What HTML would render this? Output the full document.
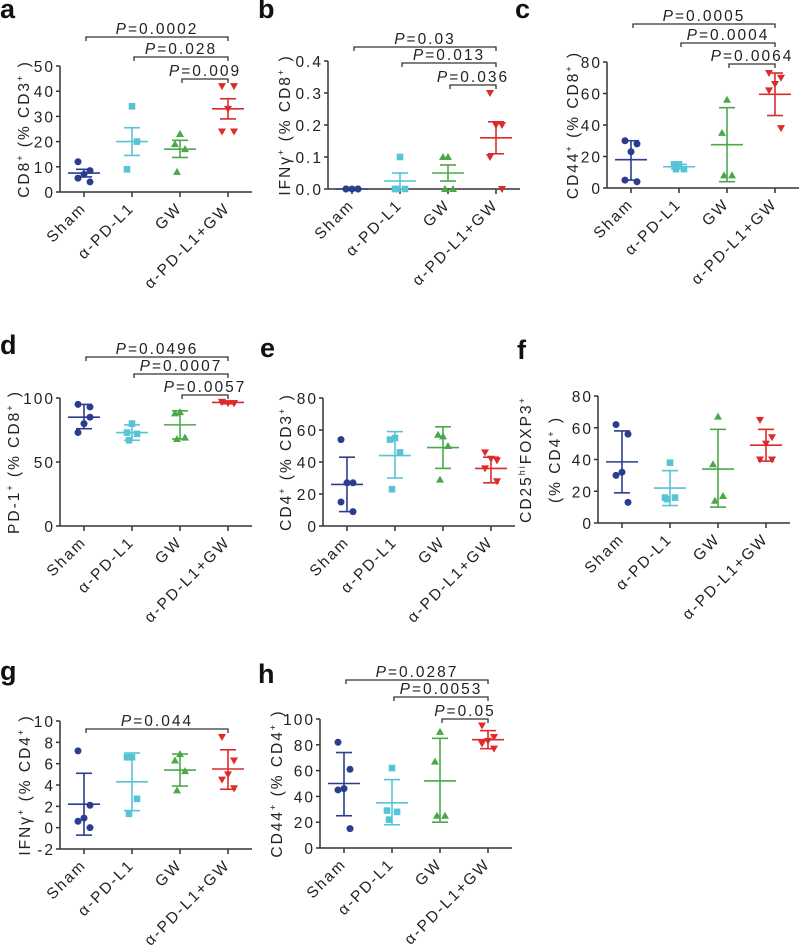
<!DOCTYPE html>
<html><head><meta charset="utf-8"><style>
body{margin:0;background:#fff}
svg{display:block;font-family:"Liberation Sans",sans-serif}
.t{font-size:15.5px;letter-spacing:2px;fill:#222}
</style></head><body>
<svg id="fig" width="800" height="951" viewBox="0 0 800 951"></svg>
<script>
const categories = ["Sham","\u03b1-PD-L1","GW","\u03b1-PD-L1+GW"];
const colors = ["#2b3d8f","#56c3d6","#4aa84a","#dd2b2b"];
const aPts = [[12,8.5,7,5.5,4],[34,20,9],[23,19,17,8],[42,42,33,24,24]];
const aMean = [7.5,20,17,33]; const aErr = [[6,9],[14.5,25.5],[13.7,20.5],[29,37]];
const bPts = [[0,0,0,0,0],[0.1,0,0,0],[0.1,0.1,0,0],[0.3,0.2,0.2,0.1,0]];
const bMean = [0,0.025,0.05,0.16]; const bErr = [[0,0],[0,0.05],[0.025,0.075],[0.11,0.21]];
const cPts = [[30,28,23,5,4],[15,15,12,12],[56,35,8,8],[73,70,66,62,38]];
const cMean = [18,13.5,27.5,59.5]; const cErr = [[5,30],[12,15],[4,51],[46,73]];
const dPts = [[95,93,80,73,85],[80,73,72,67],[89,88,69,68],[97,96,96,97,96]];
const dMean = [85,73,79,96.5]; const dErr = [[76,95],[67,79],[68,90],[95.5,97.5]];
const ePts = [[54,27,27,15,9],[55,54,46,23],[56,57,50,29],[46,41,42,36,28]];
const eMean = [26,44,49,36]; const eErr = [[9,43],[30,59],[36,62],[27,43]];
const fPts = [[62,56,32,30,13],[38,16,16,15],[67,37,17,14],[65,54,50,40,40]];
const fMean = [38.5,22,34,49]; const fErr = [[19,58],[11,33],[10,59],[39,59]];
const gPts = [[7.2,2.1,0.9,0.6,0],[6.6,6.6,2.7,1.3],[6.9,6.3,5.3,3.5],[8.5,6.3,5,4.5,3.7]];
const gMean = [2.2,4.3,5.4,5.5]; const gErr = [[-0.7,5.1],[1.6,7],[3.9,6.9],[3.6,7.3]];
const hPts = [[82,61,46,45,15],[62,29,28,22],[90,67,25,25],[95,86,83,81,77]];
const hMean = [50,35,52,84]; const hErr = [[25,74],[18,53],[20,85],[77,91]];
const aTicks=[0,10,20,30,40,50], bTicks=[0,0.1,0.2,0.3,0.4], cTicks=[0,20,40,60,80], dTicks=[0,50,100];
const eTicks=[0,20,40,60,80], fTicks=[0,20,40,60,80], gTicks=[-2,0,2,4,6,8,10], hTicks=[0,20,40,60,80,100];
const bTickLabels=["0.0","0.1","0.2","0.3","0.4"];
const aP=["0.0002","0.028","0.009"], bP=["0.03","0.013","0.036"], cP=["0.0005","0.0004","0.0064"];
const dP=["0.0496","0.0007","0.0057"], gP=["0.044"], hP=["0.0287","0.0053","0.05"];

const NS="http://www.w3.org/2000/svg", svg=document.getElementById('fig');
function mk(tag,attrs,parent){const e=document.createElementNS(NS,tag);for(const k in attrs)e.setAttribute(k,attrs[k]);(parent||svg).appendChild(e);return e;}
const jit=[[0],[-5,5],[0,5,-5],[0,-5,5,-3],[-6,6,0,-6,6]];

function panel(cfg){
  const g=mk('g',{});
  
  
  const ymin=cfg.ticks[0], ymax=cfg.ticks[cfg.ticks.length-1];
  const Y=v=>cfg.y0+(v-ymin)/(ymax-ymin)*(cfg.yTop-cfg.y0);
  const X=i=>cfg.ax+24+i*48;
  const L=mk('text',{x:cfg.lx,y:cfg.ly,'font-size':27,'font-weight':'bold',fill:'#111'},g);L.textContent=cfg.id;
  
  
  mk('line',{x1:cfg.ax,y1:cfg.y0,x2:cfg.ax,y2:cfg.yTop,stroke:'#333','stroke-width':1.5},g);
  mk('line',{x1:cfg.ax,y1:cfg.y0,x2:cfg.ax+192,y2:cfg.y0,stroke:'#333','stroke-width':1.5},g);
  cfg.ticks.forEach((t,k)=>{
    mk('line',{x1:cfg.ax-4,y1:Y(t),x2:cfg.ax,y2:Y(t),stroke:'#333','stroke-width':1.5},g);
    const tx=mk('text',{x:cfg.ax-5,y:Y(t)+6,'text-anchor':'end',class:'t'},g);
    tx.textContent=cfg.tickLabels?cfg.tickLabels[k]:String(t);
    
    
  });
  categories.forEach((c,i)=>{
    mk('line',{x1:X(i),y1:cfg.y0,x2:X(i),y2:cfg.y0+5,stroke:'#333','stroke-width':1.5},g);
    const tx=mk('text',{x:X(i)+3,y:cfg.y0+17,'text-anchor':'end',class:'t',transform:`rotate(-45 ${X(i)+3} ${cfg.y0+17})`},g);tx.textContent=c;
    
    
  });
  const cy=(cfg.y0+cfg.yTop)/2;
  cfg.title.forEach((tl,k)=>{
    const tx=mk('text',{x:cfg.tx+k*29,y:cy,'text-anchor':'middle',class:'t',transform:`rotate(-90 ${cfg.tx+k*29} ${cy})`},g);
    tx.innerHTML=tl;
    
    
  });
  cfg.pts.forEach((arr,i)=>{
    const col=colors[i], x=X(i);
    arr.forEach((v,j)=>{
      const px=x+jit[arr.length-1][j], py=Y(v); let m;
      if(i==0) m=mk('circle',{cx:px,cy:py,r:3.5,fill:col},g);
      else if(i==1) m=mk('rect',{x:px-3.3,y:py-3.3,width:6.6,height:6.6,fill:col},g);
      else if(i==2) m=mk('polygon',{points:`${px},${py-4} ${px-4},${py+3} ${px+4},${py+3}`,fill:col},g);
      else m=mk('polygon',{points:`${px},${py+4} ${px-4},${py-3} ${px+4},${py-3}`,fill:col},g);
      
      
    });
    const lo=Y(cfg.err[i][0]),hi=Y(cfg.err[i][1]),mn=Y(cfg.mean[i]);
    mk('line',{x1:x,y1:lo,x2:x,y2:hi,stroke:col,'stroke-width':1.6},g);
    mk('line',{x1:x-8,y1:lo,x2:x+8,y2:lo,stroke:col,'stroke-width':1.6},g);
    mk('line',{x1:x-8,y1:hi,x2:x+8,y2:hi,stroke:col,'stroke-width':1.6},g);
    const ml=mk('line',{x1:x-16,y1:mn,x2:x+16,y2:mn,stroke:col,'stroke-width':1.6},g);
    
    
  });
  (cfg.pv||[]).forEach((p,k)=>{
    const b=cfg.br[k], x1=X(b[0])+2, x2=X(3);
    mk('path',{d:`M${x1} ${b[1]+4}V${b[1]}H${x2}V${b[1]+4}`,stroke:'#333',fill:'none','stroke-width':1.3},g);
    const tx=mk('text',{x:(x1+x2)/2,y:b[1]-3,'text-anchor':'middle',class:'t'},g);
    tx.innerHTML='<tspan font-style="italic">P</tspan>='+p;
    
    
  });
}
const sup=s=>`<tspan dy="-6" font-size="9">${s}</tspan><tspan dy="6"> </tspan>`;
panel({id:'a',lx:0,ly:18,ax:60,y0:192,yTop:66,ticks:aTicks,pts:aPts,mean:aMean,err:aErr,tx:29,title:['CD8'+sup('+')+'(% CD3'+sup('+')+')'],pv:aP,br:[[0,37],[1,57],[2,79]]});
panel({id:'b',lx:258,ly:18,ax:328,y0:189,yTop:61,ticks:bTicks,tickLabels:bTickLabels,pts:bPts,mean:bMean,err:bErr,tx:290,title:['IFN\u03b3'+sup('+')+'(% CD8'+sup('+')+')'],pv:bP,br:[[0,47],[1,63],[2,85]]});
panel({id:'c',lx:515,ly:18,ax:607,y0:188,yTop:62,ticks:cTicks,pts:cPts,mean:cMean,err:cErr,tx:578,title:['CD44'+sup('+')+'(% CD8'+sup('+')+')'],pv:cP,br:[[0,24],[1,43],[2,64]]});
panel({id:'d',lx:0,ly:354,ax:60,y0:526,yTop:398,ticks:dTicks,pts:dPts,mean:dMean,err:dErr,tx:19,title:['PD-1'+sup('+')+'(% CD8'+sup('+')+')'],pv:dP,br:[[0,357],[1,374],[2,395]]});
panel({id:'e',lx:260,ly:357,ax:323,y0:526,yTop:398,ticks:eTicks,pts:ePts,mean:eMean,err:eErr,tx:291,title:['CD4'+sup('+')+'(% CD3'+sup('+')+')']});
panel({id:'f',lx:517,ly:359,ax:598,y0:523,yTop:396,ticks:fTicks,pts:fPts,mean:fMean,err:fErr,tx:531,title:['CD25'+'<tspan dy="-6" font-size="9">hi</tspan><tspan dy="6">FOXP3</tspan>'+sup('+'),'(% CD4'+sup('+')+')']});
panel({id:'g',lx:0,ly:680,ax:60,y0:849,yTop:721,ticks:gTicks,pts:gPts,mean:gMean,err:gErr,tx:30,title:['IFN\u03b3'+sup('+')+'(% CD4'+sup('+')+')'],pv:gP,br:[[0,729]]});
panel({id:'h',lx:258,ly:683,ax:320,y0:848,yTop:719,ticks:hTicks,pts:hPts,mean:hMean,err:hErr,tx:282,title:['CD44'+sup('+')+'(% CD4'+sup('+')+')'],pv:hP,br:[[0,680],[1,697],[2,719]]});
</script>
</body></html>
